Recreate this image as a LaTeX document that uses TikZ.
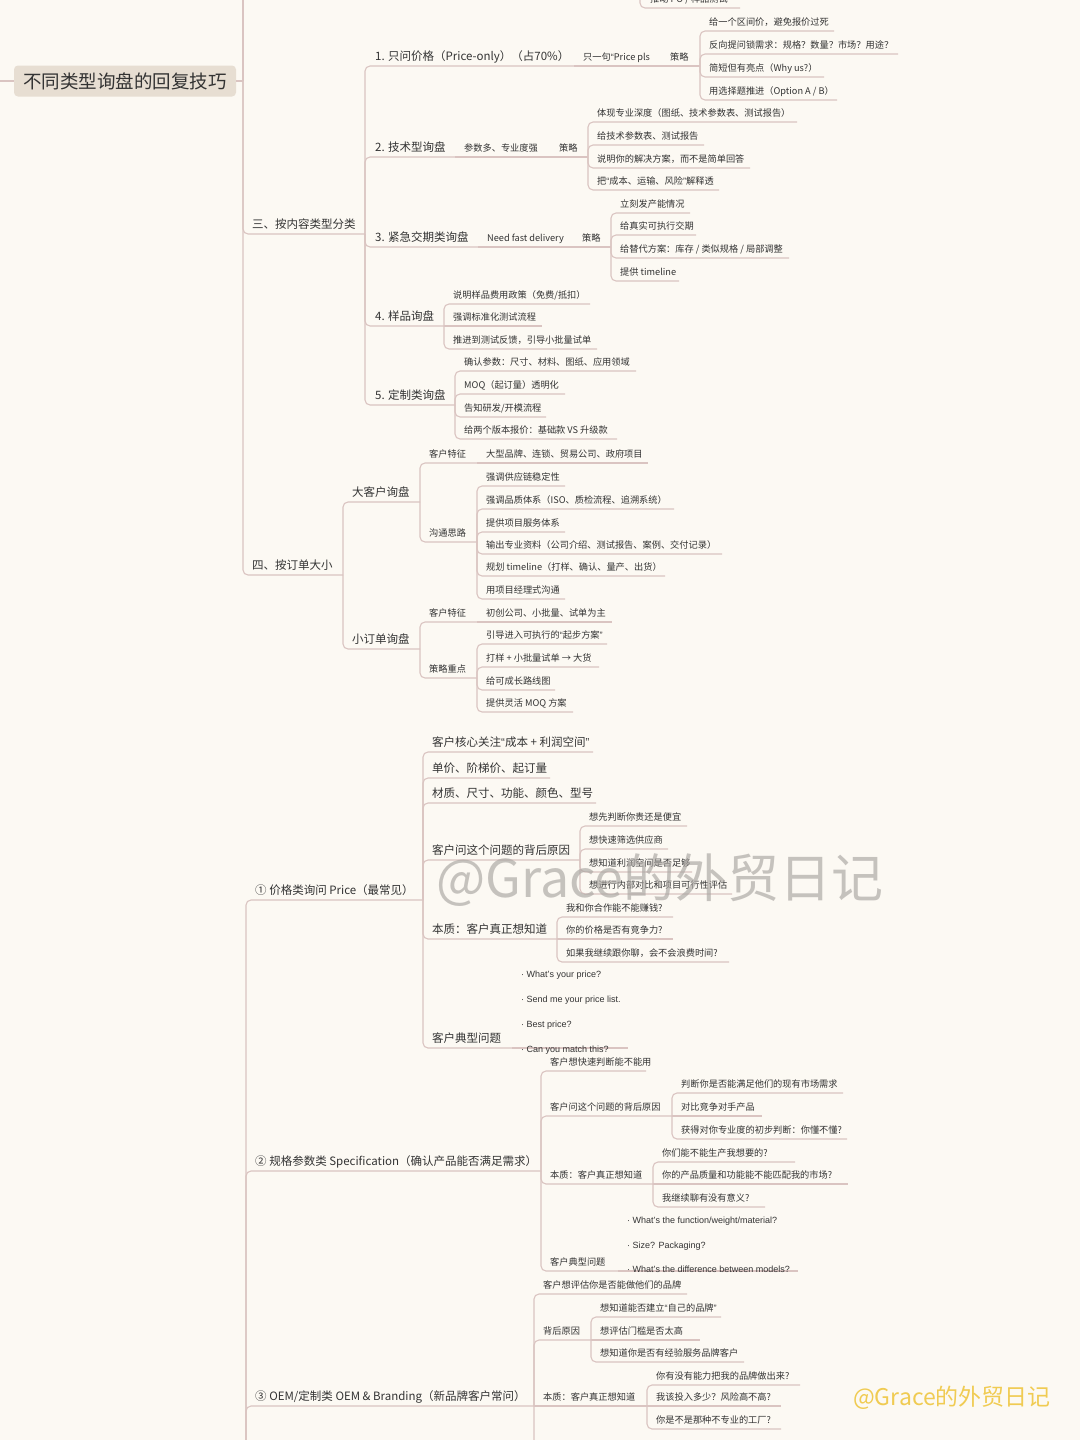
\documentclass[tikz,border=0pt]{standalone}
\usepackage{fontspec}
\setmainfont{Noto Sans CJK SC}
\newfontfamily\latinf{Liberation Sans}
\newcommand\mmqo{{\latinf “}}
\newcommand\mmqc{{\latinf ”}}
\definecolor{bgc}{HTML}{FCF9F3}
\definecolor{linec}{HTML}{DAC4C1}
\definecolor{txtc}{HTML}{333333}
\definecolor{rootc}{HTML}{E7DED2}
\definecolor{wmg}{HTML}{A9A5A1}
\definecolor{wmy}{HTML}{F0CB52}
\tikzset{
 branch/.style={draw=linec,line width=1.1pt,rounded corners=5pt},
 big/.style={font=\fontsize{11.5}{13}\selectfont,text=txtc,inner sep=0pt,anchor=base west},
 small/.style={font=\fontsize{9.2}{11}\selectfont,text=txtc,inner sep=0pt,anchor=base west},
 bullet/.style={small,font=\fontsize{9}{11}\selectfont\latinf},
 rootbox/.style={fill=rootc,rounded corners=4pt,minimum width=222pt,minimum height=31pt,inner sep=0pt,font=\fontsize{18.5}{20}\selectfont,text=txtc},
}
% #1 name, #2 parent, #3 text x, #4 line y, #5 line end x, #6 style, #7 text
\newcommand\mmtopic[7]{%
  \coordinate (#1-e) at (#5,#4);
  \draw[branch] (#2-e) |- (#1-e);
  \node[#6] (#1) at (#3,#4-6) {#7};}
\newcommand\mmchain[7]{%
  \coordinate (#1-e) at (#5,#4);
  \draw[branch] (#2-e) -- (#1-e);
  \node[#6] (#1) at (#3,#4-6) {#7};}
\begin{document}
\begin{tikzpicture}[x=1pt,y=-1pt]
\fill[bgc] (0,0) rectangle (1080,1440);
\useasboundingbox (0,0) rectangle (1080,1440);

% root
\node[rootbox] (root) at (125,81) {不同类型询盘的回复技巧};
\coordinate (root-e) at (243,81);
\coordinate (up-e) at (243,-20);
\coordinate (left-e) at (-10,81);
\draw[branch] (root.east) -- (root-e);
\draw[branch] (root-e) -- (up-e);
\draw[branch] (left-e) -- (root.west);

% partially visible item at top
\coordinate (topoff-e) at (640,-40);
\mmtopic{t0}{topoff}{650}{8}{740}{small}{推动 PO / 样品测试}

% ===== 三 =====
\mmtopic{s3}{root}{252}{234}{365}{big}{三、按内容类型分类}
\mmtopic{a1}{s3}{375}{66}{574}{big}{1. 只问价格（Price-only）（占70\%）}
\mmchain{a1b}{a1}{583}{66}{661}{small}{只一句\mmqo Price pls}
\mmchain{a1c}{a1b}{670}{66}{700}{small}{策略}
\mmtopic{a1c1}{a1c}{709}{31}{834}{small}{给一个区间价，避免报价过死}
\mmtopic{a1c2}{a1c}{709}{54}{898}{small}{反向提问锁需求：规格？数量？市场？用途？}
\mmtopic{a1c3}{a1c}{709}{77}{824}{small}{简短但有亮点（Why us?）}
\mmtopic{a1c4}{a1c}{709}{100}{837}{small}{用选择题推进（Option A / B）}

\mmtopic{a2}{s3}{375}{157}{455}{big}{2. 技术型询盘}
\mmchain{a2b}{a2}{464}{157}{550}{small}{参数多、专业度强}
\mmchain{a2c}{a2b}{559}{157}{588}{small}{策略}
\mmtopic{a2c1}{a2c}{597}{122}{797}{small}{体现专业深度（图纸、技术参数表、测试报告）}
\mmtopic{a2c2}{a2c}{597}{145}{704}{small}{给技术参数表、测试报告}
\mmtopic{a2c3}{a2c}{597}{168}{750}{small}{说明你的解决方案，而不是简单回答}
\mmtopic{a2c4}{a2c}{597}{190}{719}{small}{把\mmqo 成本、运输、风险\mmqc 解释透}

\mmtopic{a3}{s3}{375}{247}{478}{big}{3. 紧急交期类询盘}
\mmchain{a3b}{a3}{487}{247}{573}{small}{Need fast delivery}
\mmchain{a3c}{a3b}{582}{247}{611}{small}{策略}
\mmtopic{a3c1}{a3c}{620}{213}{690}{small}{立刻发产能情况}
\mmtopic{a3c2}{a3c}{620}{235}{696}{small}{给真实可执行交期}
\mmtopic{a3c3}{a3c}{620}{258}{789}{small}{给替代方案：库存 / 类似规格 / 局部调整}
\mmtopic{a3c4}{a3c}{620}{281}{679}{small}{提供 timeline}

\mmtopic{a4}{s3}{375}{326}{444}{big}{4. 样品询盘}
\mmtopic{a4c1}{a4}{453}{304}{590}{small}{说明样品费用政策（免费/抵扣）}
\mmchain{a4c2}{a4}{453}{326}{542}{small}{强调标准化测试流程}
\mmtopic{a4c3}{a4}{453}{349}{597}{small}{推进到测试反馈，引导小批量试单}

\mmtopic{a5}{s3}{375}{405}{455}{big}{5. 定制类询盘}
\mmtopic{a5c1}{a5}{464}{371}{636}{small}{确认参数：尺寸、材料、图纸、应用领域}
\mmtopic{a5c2}{a5}{464}{394}{565}{small}{MOQ（起订量）透明化}
\mmtopic{a5c3}{a5}{464}{417}{546}{small}{告知研发/开模流程}
\mmtopic{a5c4}{a5}{464}{439}{617}{small}{给两个版本报价：基础款 VS 升级款}

% ===== 四 =====
\mmtopic{s4}{root}{252}{575}{343}{big}{四、按订单大小}
\mmtopic{f1}{s4}{352}{502}{420}{big}{大客户询盘}
\mmtopic{f1a}{f1}{429}{463}{477}{small}{客户特征}
\mmchain{f1a1}{f1a}{486}{463}{648}{small}{大型品牌、连锁、贸易公司、政府项目}
\mmtopic{f1b}{f1}{429}{542}{477}{small}{沟通思路}
\mmtopic{f1b1}{f1b}{486}{486}{565}{small}{强调供应链稳定性}
\mmtopic{f1b2}{f1b}{486}{509}{674}{small}{强调品质体系（ISO、质检流程、追溯系统）}
\mmtopic{f1b3}{f1b}{486}{532}{565}{small}{提供项目服务体系}
\mmtopic{f1b4}{f1b}{486}{554}{722}{small}{输出专业资料（公司介绍、测试报告、案例、交付记录）}
\mmtopic{f1b5}{f1b}{486}{576}{665}{small}{规划 timeline（打样、确认、量产、出货）}
\mmtopic{f1b6}{f1b}{486}{599}{565}{small}{用项目经理式沟通}

\mmtopic{f2}{s4}{352}{649}{420}{big}{小订单询盘}
\mmtopic{f2a}{f2}{429}{622}{477}{small}{客户特征}
\mmchain{f2a1}{f2a}{486}{622}{612}{small}{初创公司、小批量、试单为主}
\mmtopic{f2b}{f2}{429}{678}{477}{small}{策略重点}
\mmtopic{f2b1}{f2b}{486}{644}{607}{small}{引导进入可执行的\mmqo 起步方案\mmqc}
\mmtopic{f2b2}{f2b}{486}{667}{599}{small}{打样 + 小批量试单 → 大货}
\mmtopic{f2b3}{f2b}{486}{690}{555}{small}{给可成长路线图}
\mmtopic{f2b4}{f2b}{486}{712}{573}{small}{提供灵活 MOQ 方案}

% ===== ① ② ③ =====
\coordinate (low-e) at (246,1700);
\mmtopic{p1}{low}{255}{900}{423}{big}{① 价格类询问 Price（最常见）}
\mmtopic{p1a}{p1}{432}{752}{593}{big}{客户核心关注\mmqo 成本 + 利润空间\mmqc}
\mmtopic{p1b}{p1}{432}{778}{550}{big}{单价、阶梯价、起订量}
\mmtopic{p1c}{p1}{432}{803}{596}{big}{材质、尺寸、功能、颜色、型号}
\mmtopic{p1d}{p1}{432}{860}{580}{big}{客户问这个问题的背后原因}
\mmtopic{p1d1}{p1d}{589}{826}{687}{small}{想先判断你贵还是便宜}
\mmtopic{p1d2}{p1d}{589}{849}{668}{small}{想快速筛选供应商}
\mmtopic{p1d3}{p1d}{589}{872}{692}{small}{想知道利润空间是否足够}
\mmtopic{p1d4}{p1d}{589}{894}{732}{small}{想进行内部对比和项目可行性评估}
\mmtopic{p1f}{p1}{432}{939}{557}{big}{本质：客户真正想知道}
\mmtopic{p1f1}{p1f}{566}{917}{673}{small}{我和你合作能不能赚钱?}
\mmchain{p1f2}{p1f}{566}{939}{673}{small}{你的价格是否有竞争力?}
\mmtopic{p1f3}{p1f}{566}{962}{729}{small}{如果我继续跟你聊，会不会浪费时间?}
\mmtopic{p1g}{p1}{432}{1048}{512}{big}{客户典型问题}
\coordinate (p1q-e) at (628,1048);
\draw[branch] (p1g-e) -- (p1q-e);
\node[bullet] (p1q1) at (521,977) {· What’s your price?};
\node[bullet] (p1q2) at (521,1002) {· Send me your price list.};
\node[bullet] (p1q3) at (521,1027) {· Best price?};
\node[bullet] (p1q4) at (521,1052) {· Can you match this?};

\mmtopic{p2}{low}{255}{1171}{541}{big}{② 规格参数类 Specification（确认产品能否满足需求）}
\mmtopic{p2a}{p2}{550}{1071}{646}{small}{客户想快速判断能不能用}
\mmtopic{p2b}{p2}{550}{1116}{672}{small}{客户问这个问题的背后原因}
\mmtopic{p2b1}{p2b}{681}{1093}{843}{small}{判断你是否能满足他们的现有市场需求}
\mmchain{p2b2}{p2b}{681}{1116}{762}{small}{对比竞争对手产品}
\mmtopic{p2b3}{p2b}{681}{1139}{847}{small}{获得对你专业度的初步判断：你懂不懂?}
\mmtopic{p2c}{p2}{550}{1184}{653}{small}{本质：客户真正想知道}
\mmtopic{p2c1}{p2c}{662}{1162}{795}{small}{你们能不能生产我想要的?}
\mmchain{p2c2}{p2c}{662}{1184}{848}{small}{你的产品质量和功能能不能匹配我的市场?}
\mmtopic{p2c3}{p2c}{662}{1207}{765}{small}{我继续聊有没有意义?}
\mmtopic{p2d}{p2}{550}{1271}{618}{small}{客户典型问题}
\coordinate (p2q-e) at (798,1271);
\draw[branch] (p2d-e) -- (p2q-e);
\node[bullet] (p2q1) at (627,1223) {· What’s the function/weight/material?};
\node[bullet] (p2q2) at (627,1248) {· Size? Packaging?};
\node[bullet] (p2q3) at (627,1272) {· What’s the difference between models?};

\mmtopic{p3}{low}{255}{1406}{534}{big}{③ OEM/定制类 OEM \& Branding（新品牌客户常问）}
\mmtopic{p3a}{p3}{543}{1294}{687}{small}{客户想评估你是否能做他们的品牌}
\mmtopic{p3b}{p3}{543}{1340}{591}{small}{背后原因}
\mmtopic{p3b1}{p3b}{600}{1317}{721}{small}{想知道能否建立\mmqo 自己的品牌\mmqc}
\mmchain{p3b2}{p3b}{600}{1340}{700}{small}{想评估门槛是否太高}
\mmtopic{p3b3}{p3b}{600}{1362}{744}{small}{想知道你是否有经验服务品牌客户}
\mmchain{p3c}{p3}{543}{1406}{647}{small}{本质：客户真正想知道}
\mmtopic{p3c1}{p3c}{656}{1385}{800}{small}{你有没有能力把我的品牌做出来?}
\mmchain{p3c2}{p3c}{656}{1406}{781}{small}{我该投入多少？风险高不高?}
\mmtopic{p3c3}{p3c}{656}{1429}{781}{small}{你是不是那种不专业的工厂?}
\coordinate (p3z-e) at (640,1480);
\draw[branch] (p3-e) |- (p3z-e);

% watermarks
\node[text=wmg,opacity=0.65,font=\fontsize{52}{56}\selectfont,inner sep=0pt] (wm1) at (660,880) {@Grace的外贸日记};
\node[text=wmy,font=\fontsize{23}{26}\selectfont,inner sep=0pt] (wm2) at (952,1398) {@Grace的外贸日记};
\end{tikzpicture}
\end{document}
